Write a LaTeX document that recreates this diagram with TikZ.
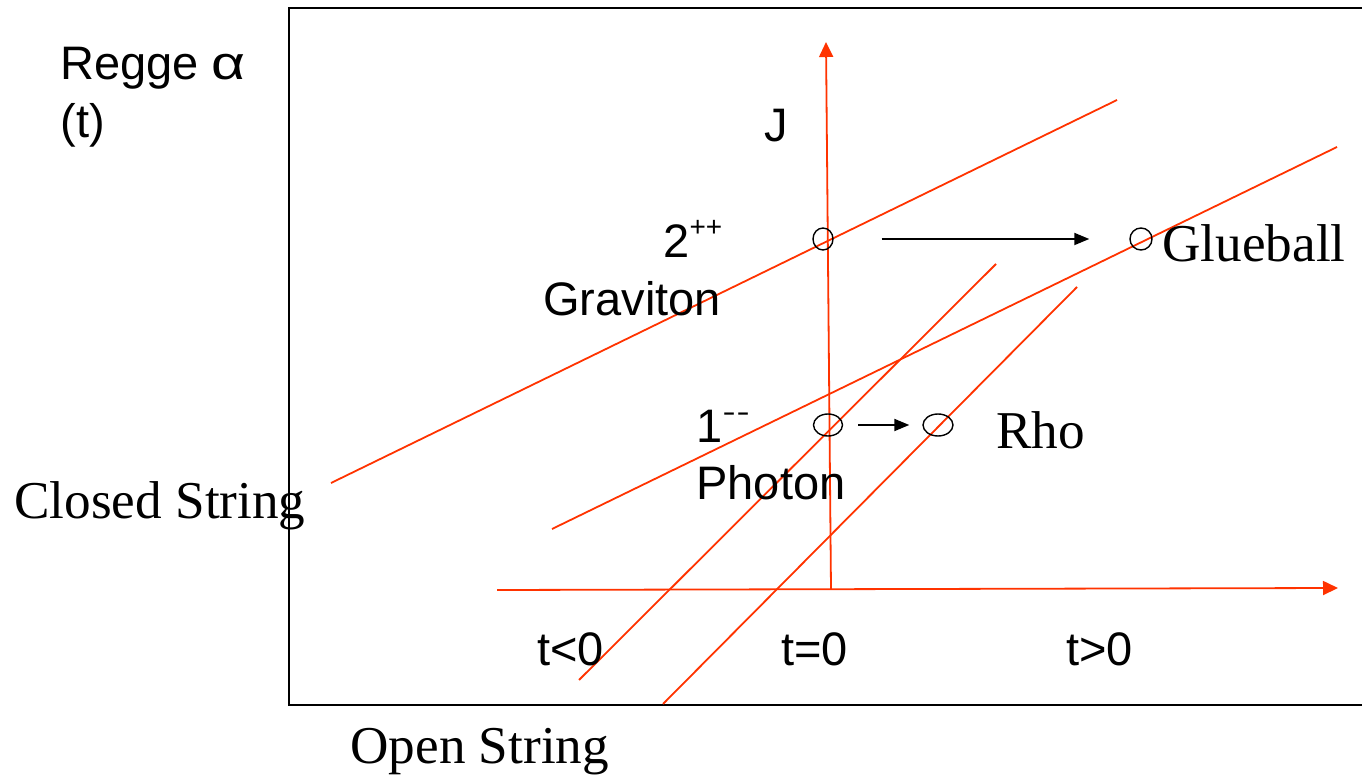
\documentclass[tikz,border=0pt]{standalone}
\usepackage{fontspec}
\setmainfont{Liberation Serif}
\setsansfont{Liberation Sans}
\usetikzlibrary{arrows.meta,shapes.geometric}
\definecolor{traj}{RGB}{255,51,0}
\tikzset{
  redline/.style={draw=traj,line width=0.9pt},
  redaxis/.style={draw=traj,line width=0.9pt,-{Triangle[length=7.5pt,width=7pt]}},
  blkarrow/.style={draw=black,line width=0.9pt,-{Triangle[length=7.5pt,width=6pt]}},
  sanslab/.style={inner sep=0pt,anchor=base west,font=\sffamily\fontsize{23.5}{28}\selectfont},
  seriflab/.style={inner sep=0pt,anchor=base west,font=\rmfamily\fontsize{26.6}{31}\selectfont},
  state/.style={draw=black,line width=0.7pt,ellipse,inner sep=0pt},
}
\newcommand{\supmark}[1]{\raisebox{0.45em}{\fontsize{14}{16}\selectfont #1}}
\begin{document}
\begin{tikzpicture}[x=0.5pt,y=-0.5pt]
\useasboundingbox (0,0) rectangle (1362,775);
% frame
\coordinate (fTR) at (1364,8);
\coordinate (fTL) at (289,8);
\coordinate (fBL) at (289,705);
\coordinate (fBR) at (1364,705);
\draw[line width=1pt] (fTR) -- (fTL) -- (fBL) -- (fBR);
% axes
\coordinate (vB) at (831,589);
\coordinate (vT) at (826,42);
\coordinate (hL) at (497,590);
\coordinate (hR) at (1338,588);
\draw[redaxis] (vB) -- (vT);
\draw[redaxis] (hL) -- (hR);
% trajectories
\coordinate (a1) at (331,483); \coordinate (b1) at (1117,100);
\coordinate (a2) at (552,529); \coordinate (b2) at (1337,147);
\coordinate (a3) at (579,680); \coordinate (b3) at (996,264);
\coordinate (a4) at (663,704); \coordinate (b4) at (1077,287);
\draw[redline] (a1) -- (b1);
\draw[redline] (a2) -- (b2);
\draw[redline] (a3) -- (b3);
\draw[redline] (a4) -- (b4);
% states
\node[state,minimum width=10pt,minimum height=11pt] (grav) at (823,239) {};
\node[state,minimum width=11pt,minimum height=11pt] (glue) at (1141,239) {};
\node[state,minimum width=14.5pt,minimum height=11pt] (phot) at (828,425) {};
\node[state,minimum width=15pt,minimum height=11pt] (rho) at (938,425) {};
\draw[blkarrow,shorten <=24pt,shorten >=20pt] (grav) -- (glue);
\draw[blkarrow,shorten <=7.5pt,shorten >=6.5pt] (phot) -- (rho);
% labels
\node[sanslab] (regge) at (60,80) {Regge \scalebox{1.25}[1]{α}};
\node[sanslab] (tpar) at (60,138) {(t)};
\node[sanslab] (J) at (764,142) {J};
\node[sanslab] (two) at (663,258) {2\supmark{++}};
\node[sanslab] (gravl) at (543,316) {Graviton};
\node[sanslab] (one) at (696,443) {1\supmark{\scalebox{1.4}[1]{-}\kern0.5pt\scalebox{1.4}[1]{-}}};
\node[sanslab] (photl) at (696,500) {Photon};
\node[seriflab] (rhol) at (996,449) {Rho};
\node[seriflab] (gluel) at (1162,262) {Glueball};
\node[seriflab] (closed) at (14,519) {Closed String};
\node[seriflab] (open) at (350,763) {Open String};
\node[sanslab] (tneg) at (537,665) {t<0};
\node[sanslab] (tzero) at (781,665) {t=0};
\node[sanslab] (tpos) at (1066,665) {t>0};
\end{tikzpicture}
\end{document}
